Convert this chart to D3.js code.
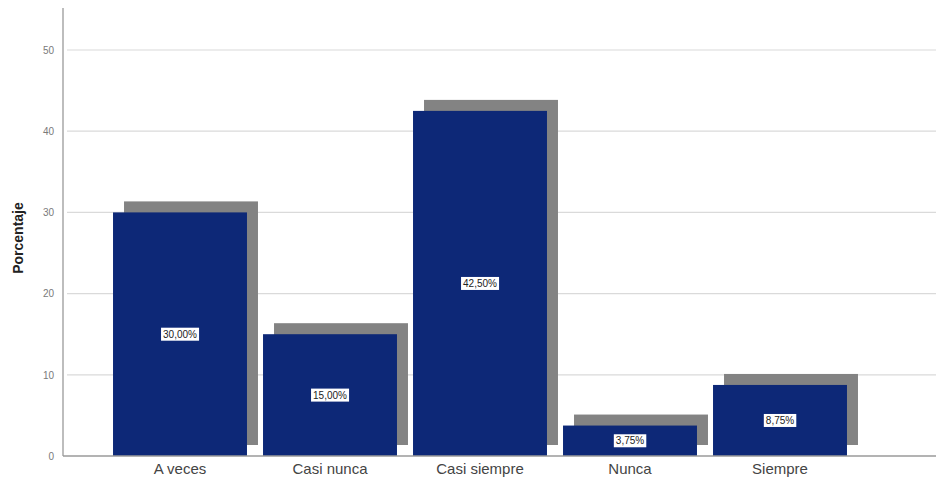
<!DOCTYPE html>
<html>
<head>
<meta charset="utf-8">
<script src="https://cdn.jsdelivr.net/npm/d3@7"></script>
<style>
  html, body { margin: 0; padding: 0; background: #fff; }
  svg { display: block; font-family: "Liberation Sans", Arial, sans-serif; }
</style>
</head>
<body>
<svg id="chart" width="936" height="486"></svg>
<script>
// Response categories and their percentages
const categories = ["A veces", "Casi nunca", "Casi siempre", "Nunca", "Siempre"];
const percentages = [30.00, 15.00, 42.50, 3.75, 8.75];
const valueLabels = ["30,00%", "15,00%", "42,50%", "3,75%", "8,75%"];
const yTicks = [0, 10, 20, 30, 40, 50];

const svg = d3.select("#chart");
const W = 936, H = 486;
const axisX = 63, baseY = 456, topY = 8;

const y = d3.scaleLinear().domain([0, 55]).range([baseY, baseY - 55 * 8.12]);
const x = d3.scaleBand().domain(categories).range([105, 855])
  .paddingInner(0.107).paddingOuter(0.0535);

// Horizontal gridlines
svg.append("g").selectAll("line").data(yTicks.filter(d => d > 0)).join("line")
  .attr("x1", axisX + 4).attr("x2", W)
  .attr("y1", d => y(d)).attr("y2", d => y(d))
  .attr("stroke", "#dadada").attr("stroke-width", 1.2);

// Y tick labels
const yAxis = d3.axisLeft(y).tickValues(yTicks).tickSize(0).tickPadding(9)
  .tickFormat(d3.format("d"));
const gy = svg.append("g").attr("transform", `translate(${axisX},0)`).call(yAxis);
gy.select(".domain").remove();
gy.selectAll("text").attr("fill", "#7a7a7a").attr("font-size", 10);

// Axis lines
svg.append("line").attr("x1", axisX).attr("x2", axisX).attr("y1", topY).attr("y2", baseY)
  .attr("stroke", "#9a9a9a").attr("stroke-width", 1.3);

const dx = 11, dy = -11;
const data = categories.map((c, i) => ({ c, v: percentages[i], label: valueLabels[i] }));

// Drop shadows behind the bars
svg.append("g").selectAll("rect").data(data).join("rect")
  .attr("x", d => x(d.c) + dx)
  .attr("y", d => y(d.v) + dy)
  .attr("width", x.bandwidth())
  .attr("height", d => baseY - y(d.v))
  .attr("fill", "#838383");

// Bars
svg.append("g").selectAll("rect").data(data).join("rect")
  .attr("x", d => x(d.c))
  .attr("y", d => y(d.v))
  .attr("width", x.bandwidth())
  .attr("height", d => baseY - y(d.v))
  .attr("fill", "#0d2877");

svg.append("line").attr("x1", axisX).attr("x2", W).attr("y1", baseY).attr("y2", baseY)
  .attr("stroke", "#9a9a9a").attr("stroke-width", 1.3);

// Value labels centred in each bar
const lbl = svg.append("g").selectAll("g").data(data).join("g")
  .attr("transform", d => `translate(${x(d.c) + x.bandwidth() / 2},${y(d.v / 2)})`);
lbl.append("text")
  .attr("text-anchor", "middle").attr("dy", "0.35em")
  .attr("font-size", 10).attr("fill", "#222")
  .text(d => d.label);
lbl.each(function () {
  const g = d3.select(this);
  const b = g.select("text").node().getBBox();
  g.insert("rect", "text")
    .attr("x", b.x - 2).attr("y", b.y - 1)
    .attr("width", b.width + 4).attr("height", b.height + 2)
    .attr("fill", "#fff");
});

// Category labels
const xAxis = d3.axisBottom(x).tickSize(0).tickPadding(7);
const gx = svg.append("g").attr("transform", `translate(0,${baseY})`).call(xAxis);
gx.select(".domain").remove();
gx.selectAll("text").attr("font-size", 15).attr("fill", "#444")
  .attr("font-family", "'Liberation Sans', Arial, sans-serif");

// Y axis title
svg.append("text")
  .attr("transform", `translate(23,${238}) rotate(-90)`)
  .attr("text-anchor", "middle")
  .attr("font-size", 14).attr("font-weight", "bold").attr("fill", "#222")
  .text("Porcentaje");
</script>
</body>
</html>
